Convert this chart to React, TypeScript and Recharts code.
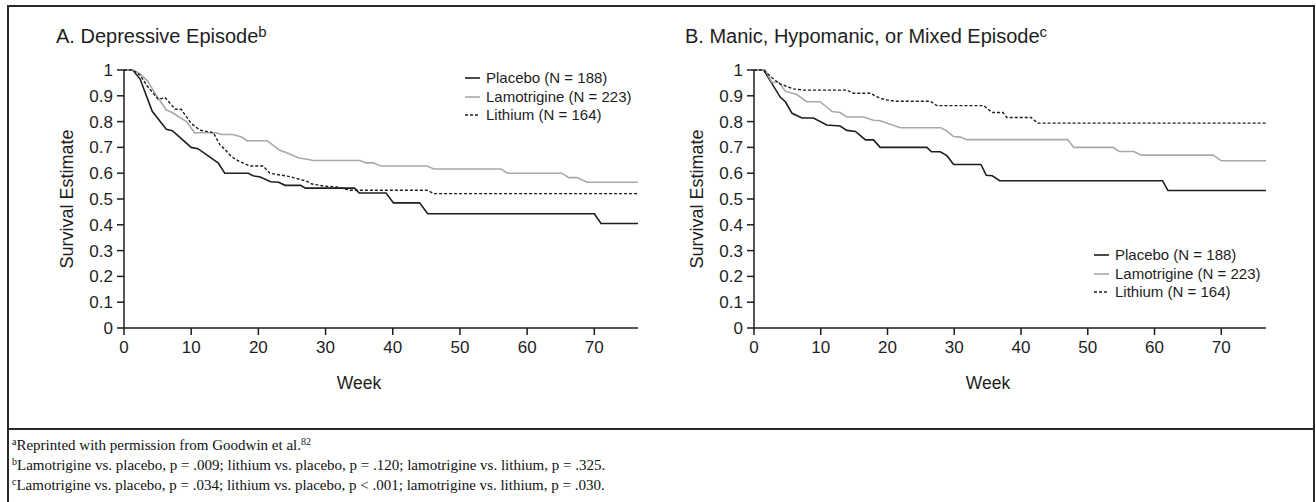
import { Legend, Line, LineChart, XAxis, YAxis } from "recharts";

// Kaplan-Meier survival estimates
const weekTicks = [0, 10, 20, 30, 40, 50, 60, 70];
const survivalTicks = [0, 0.1, 0.2, 0.3, 0.4, 0.5, 0.6, 0.7, 0.8, 0.9, 1];

const seriesLabels = ["Placebo (N = 188)", "Lamotrigine (N = 223)", "Lithium (N = 164)"];

// A. Depressive episode
const depPlaceboWeeks = [0, 1.3, 2.4, 4.2, 6.3, 7.2, 10, 11, 14, 15, 18.5, 19.2, 20.3, 21.8, 23, 24, 26.3, 27, 34.3, 35, 39, 40.1, 44, 45.2, 70, 71, 76.5];
const depPlaceboSurv = [1, 1, 0.965, 0.84, 0.77, 0.765, 0.7, 0.695, 0.64, 0.6, 0.6, 0.59, 0.585, 0.567, 0.565, 0.553, 0.553, 0.542, 0.542, 0.523, 0.523, 0.485, 0.485, 0.443, 0.443, 0.405, 0.405];

const depLamoWeeks = [0, 1.35, 2.4, 3.5, 4.6, 6.3, 7.1, 9.3, 10.5, 13.7, 14.5, 16.2, 17.5, 18.3, 21.3, 23.1, 24.3, 26, 27, 28.2, 35.1, 36, 37.1, 38.2, 45.1, 46.1, 56.1, 57.1, 65.2, 66.2, 67.4, 68.9, 76.5];
const depLamoSurv = [1, 1, 0.985, 0.958, 0.91, 0.845, 0.836, 0.8, 0.757, 0.757, 0.75, 0.75, 0.74, 0.726, 0.726, 0.69, 0.678, 0.659, 0.655, 0.649, 0.649, 0.64, 0.64, 0.628, 0.628, 0.616, 0.616, 0.6, 0.6, 0.583, 0.583, 0.565, 0.565];

const depLithiumWeeks = [0, 1.3, 2.4, 3.4, 5.1, 6.1, 7.1, 7.6, 8.5, 10, 11.3, 13.3, 14.3, 15, 16, 17.2, 18.7, 20.7, 21.7, 23.2, 24, 25, 26.3, 27.1, 28, 29.7, 31, 32, 33.5, 45.1, 46.1, 76.5];
const depLithiumSurv = [1, 1, 0.98, 0.94, 0.886, 0.893, 0.864, 0.848, 0.848, 0.793, 0.767, 0.757, 0.709, 0.693, 0.664, 0.645, 0.628, 0.628, 0.6, 0.593, 0.59, 0.585, 0.575, 0.57, 0.558, 0.55, 0.548, 0.545, 0.534, 0.534, 0.521, 0.521];

// B. Manic, hypomanic, or mixed episode
const manPlaceboWeeks = [0, 1.45, 3.95, 4.7, 5.7, 7.2, 8.9, 10.9, 12.9, 13.9, 15.2, 16.7, 17.9, 18.9, 25.9, 26.6, 27.9, 28.9, 29.9, 34, 34.8, 35.7, 36.8, 61.2, 62, 76.7];
const manPlaceboSurv = [1, 1, 0.894, 0.877, 0.832, 0.814, 0.814, 0.787, 0.783, 0.766, 0.762, 0.729, 0.729, 0.7, 0.7, 0.683, 0.683, 0.668, 0.634, 0.634, 0.592, 0.59, 0.571, 0.571, 0.533, 0.533];

const manLamoWeeks = [0, 1.7, 2.7, 3.7, 4.7, 6.4, 7.9, 9.9, 11.7, 12.9, 13.9, 16.4, 17.9, 18.9, 21.9, 28, 28.9, 29.9, 30.9, 31.9, 47, 47.9, 53.8, 54.7, 56.9, 58, 68.8, 70, 76.7];
const manLamoSurv = [1, 1, 0.952, 0.952, 0.918, 0.905, 0.877, 0.877, 0.839, 0.835, 0.818, 0.818, 0.805, 0.803, 0.776, 0.776, 0.763, 0.742, 0.74, 0.73, 0.73, 0.7, 0.7, 0.684, 0.684, 0.67, 0.67, 0.648, 0.648];

const manLithiumWeeks = [0, 1.4, 2.7, 3.9, 5.9, 7.4, 13.9, 14.9, 17.4, 18.9, 19.9, 21.2, 26.4, 27.4, 34.4, 35.7, 37.3, 37.9, 41.5, 42.5, 76.7];
const manLithiumSurv = [1, 1, 0.97, 0.946, 0.927, 0.922, 0.922, 0.91, 0.91, 0.89, 0.884, 0.879, 0.879, 0.862, 0.862, 0.835, 0.835, 0.816, 0.816, 0.794, 0.794];

const SANS = "'Liberation Sans', Arial, sans-serif";
const SERIF = "'Liberation Serif', 'Times New Roman', serif";
const INK = "#1e1e1e";

const lineStyles = [
  { stroke: INK, width: 1.6, dash: undefined },
  { stroke: "#a9a9a9", width: 1.6, dash: undefined },
  { stroke: INK, width: 1.4, dash: "3 2" },
];

type Point = { week: number; survival: number };
const toPoints = (weeks: number[], surv: number[]): Point[] =>
  weeks.map((week, i) => ({ week, survival: surv[i] }));

const fmtSurvival = (v: number) => (v === 0 ? "0" : v === 1 ? "1" : v.toFixed(1));

function KmLegend() {
  return (
    <div style={{ fontFamily: SANS, fontSize: 15, color: INK, lineHeight: "18.5px" }}>
      {seriesLabels.map((label, i) => (
        <div key={label} style={{ display: "flex", alignItems: "center", whiteSpace: "nowrap" }}>
          <svg width={15} height={4} style={{ marginRight: 6 }}>
            <line
              x1={0}
              x2={15}
              y1={2}
              y2={2}
              stroke={lineStyles[i].stroke}
              strokeWidth={lineStyles[i].width}
              strokeDasharray={lineStyles[i].dash}
            />
          </svg>
          {label}
        </div>
      ))}
    </div>
  );
}

type PanelProps = {
  left: number;
  marginRight: number;
  maxWeek: number;
  series: Point[][];
  legendLeft: number;
  legendTop: number;
};

function SurvivalPanel({ left, marginRight, maxWeek, series, legendLeft, legendTop }: PanelProps) {
  const axisStroke = { stroke: INK, strokeWidth: 1.5 };
  return (
    <div style={{ position: "absolute", left, top: 0 }}>
      <LineChart width={660} height={400} margin={{ top: 70, right: marginRight, bottom: 10, left: 40 }}>
        <XAxis
          dataKey="week"
          type="number"
          domain={[0, maxWeek]}
          ticks={weekTicks}
          interval={0}
          allowDataOverflow
          height={62}
          tickSize={7}
          tickMargin={6}
          axisLine={axisStroke}
          tickLine={axisStroke}
          tick={{ fill: INK, fontSize: 17, fontFamily: SANS }}
          label={{
            value: "Week",
            position: "insideBottom",
            offset: 1,
            dx: -22,
            style: { fill: INK, fontSize: 17.5, fontFamily: SANS },
          }}
        />
        <YAxis
          dataKey="survival"
          type="number"
          domain={[0, 1]}
          ticks={survivalTicks}
          interval={0}
          tickFormatter={fmtSurvival}
          width={84}
          tickSize={7}
          tickMargin={4}
          axisLine={axisStroke}
          tickLine={axisStroke}
          tick={{ fill: INK, fontSize: 17, fontFamily: SANS }}
          label={{
            value: "Survival Estimate",
            angle: -90,
            position: "insideLeft",
            offset: 27,
            style: { textAnchor: "middle", fill: INK, fontSize: 18, fontFamily: SANS },
          }}
        />
        <Legend
          layout="vertical"
          align="center"
          verticalAlign="middle"
          content={() => <KmLegend />}
          wrapperStyle={{ left: legendLeft, top: legendTop, width: "auto" }}
        />
        {series.map((pts, i) => (
          <Line
            key={seriesLabels[i]}
            data={pts}
            dataKey="survival"
            name={seriesLabels[i]}
            type="linear"
            stroke={lineStyles[i].stroke}
            strokeWidth={lineStyles[i].width}
            strokeDasharray={lineStyles[i].dash}
            dot={false}
            activeDot={false}
            isAnimationActive={false}
          />
        ))}
      </LineChart>
    </div>
  );
}

function Title({ left, text, mark }: { left: number; text: string; mark: string }) {
  return (
    <div
      style={{
        position: "absolute",
        left,
        top: 25,
        fontFamily: SANS,
        fontSize: 20,
        color: INK,
        whiteSpace: "nowrap",
      }}
    >
      {text}
      <span style={{ fontSize: 15, position: "relative", top: -6 }}>{mark}</span>
    </div>
  );
}

const footnotes = [
  { mark: "a", text: "Reprinted with permission from Goodwin et al.", ref: "82" },
  { mark: "b", text: "Lamotrigine vs. placebo, p = .009; lithium vs. placebo, p = .120; lamotrigine vs. lithium, p = .325.", ref: "" },
  { mark: "c", text: "Lamotrigine vs. placebo, p = .034; lithium vs. placebo, p < .001; lamotrigine vs. lithium, p = .030.", ref: "" },
];

export default function App() {
  const sup = { fontSize: 10, position: "relative" as const, top: -5 };
  return (
    <div style={{ position: "relative", width: 1316, height: 502, overflow: "hidden", background: "#fff" }}>
      <style>{"body{margin:0}"}</style>
      <div
        style={{
          position: "absolute",
          left: 7,
          top: 5,
          width: 1308,
          height: 600,
          boxSizing: "border-box",
          border: "2px solid #2a2a2a",
        }}
      />
      <div style={{ position: "absolute", left: 8, top: 428, width: 1306, height: 2, background: "#2a2a2a" }} />

      <Title left={56} text="A. Depressive Episode" mark="b" />
      <Title left={685} text="B. Manic, Hypomanic, or Mixed Episode" mark="c" />

      <SurvivalPanel
        left={0}
        marginRight={22}
        maxWeek={76.5}
        series={[
          toPoints(depPlaceboWeeks, depPlaceboSurv),
          toPoints(depLamoWeeks, depLamoSurv),
          toPoints(depLithiumWeeks, depLithiumSurv),
        ]}
        legendLeft={465}
        legendTop={69}
      />
      <SurvivalPanel
        left={630}
        marginRight={24}
        maxWeek={76.7}
        series={[
          toPoints(manPlaceboWeeks, manPlaceboSurv),
          toPoints(manLamoWeeks, manLamoSurv),
          toPoints(manLithiumWeeks, manLithiumSurv),
        ]}
        legendLeft={464}
        legendTop={246}
      />

      <div
        style={{
          position: "absolute",
          left: 12,
          top: 436,
          fontFamily: SERIF,
          fontSize: 15,
          lineHeight: "18px",
          color: "#111",
          whiteSpace: "nowrap",
        }}
      >
        {footnotes.map((f) => (
          <div key={f.mark}>
            <span style={sup}>{f.mark}</span>
            {f.text}
            {f.ref ? <span style={sup}>{f.ref}</span> : null}
          </div>
        ))}
      </div>
    </div>
  );
}
